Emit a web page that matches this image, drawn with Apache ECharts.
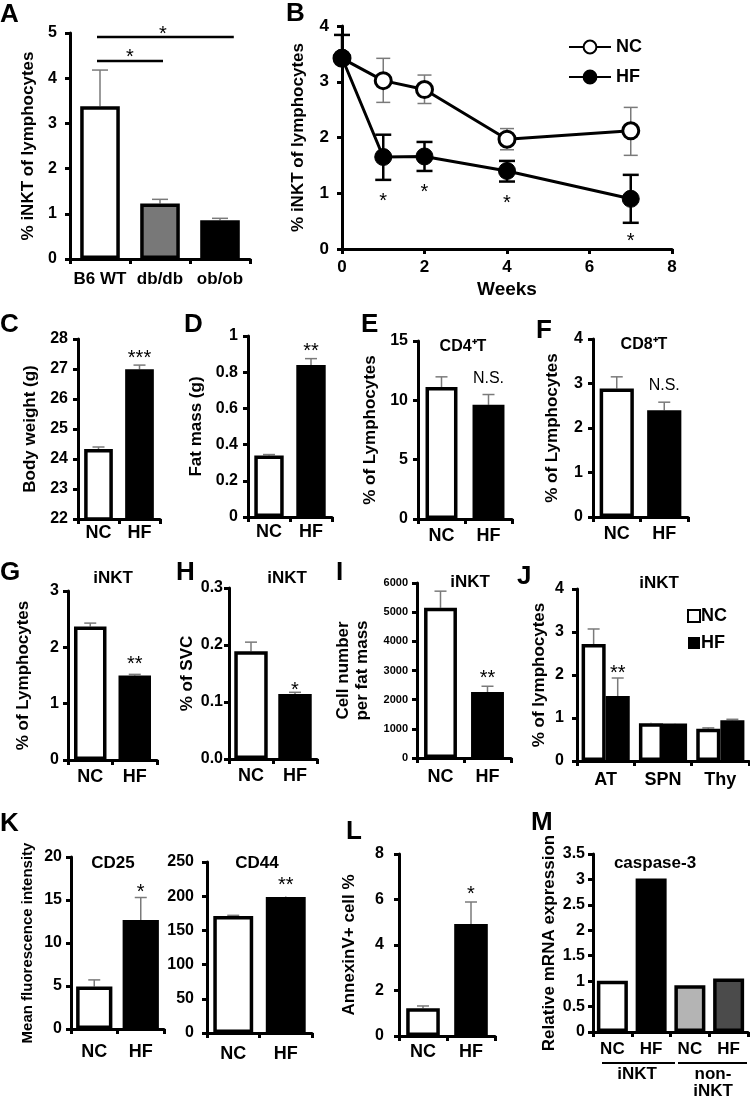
<!DOCTYPE html>
<html><head><meta charset="utf-8">
<script src="https://cdn.jsdelivr.net/npm/echarts@6/dist/echarts.min.js"></script>
<style>html,body{margin:0;padding:0;background:#fff}#c{width:750px;height:1102px}</style>
</head><body><div id="c"></div>
<script>
// ================= DATA =================
const A_categories = ['B6 WT', 'db/db', 'ob/ob'];
const A_values = [3.38, 1.23, 0.86];
const A_errUpper = [4.18, 1.32, 0.90];
const A_sigLines = [[0, 1, 4.38], [0, 2.18, 4.91]];   // [fromCat, toCat, y]
const A_stars = [[0.5, 4.56, '*'], [1.05, 5.07, '*']];

const B_weeks = [0, 1, 2, 4, 7];
const B_NC = [3.42, 3.02, 2.86, 1.97, 2.12];
const B_NC_low = [3.42, 2.63, 2.61, 1.78, 1.68];
const B_NC_high = [3.42, 3.42, 3.12, 2.16, 2.54];
const B_HF = [3.43, 1.65, 1.66, 1.40, 0.90];
const B_HF_low = [3.43, 1.24, 1.40, 1.21, 0.47];
const B_HF_high = [3.84, 2.05, 1.92, 1.58, 1.33];
const B_stars = [[1, 0.94, '*'], [2, 1.11, '*'], [4, 0.90, '*'], [7, 0.23, '*']];

const NC_HF = ['NC', 'HF'];
const C_values = [24.33, 26.99];   const C_err = [24.40, 27.13];  const C_stars = [[1, 27.53, '***']];
const D_values = [0.34, 0.84];     const D_err = [0.345, 0.875];  const D_stars = [[1, 0.94, '**']];
const E_values = [11.12, 9.62];    const E_err = [11.98, 10.49];  const E_stars = [[1, 11.87, 'N.S.']];
const F_values = [2.89, 2.40];     const F_err = [3.15, 2.58];    const F_stars = [[1, 2.95, 'N.S.']];
const G_values = [2.37, 1.50];     const G_err = [2.43, 1.52];    const G_stars = [[1, 1.78, '**']];
const H_values = [0.189, 0.114];   const H_err = [0.205, 0.117];  const H_stars = [[1, 0.1286, '*']];
const I_values = [5150, 2260];     const I_err = [5720, 2460];    const I_stars = [[1, 2904, '**']];

const J_categories = ['AT', 'SPN', 'Thy'];
const J_NC = [2.72, 0.88, 0.75];   const J_NC_err = [3.07, 0.89, 0.77];
const J_HF = [1.51, 0.87, 0.95];   const J_HF_err = [1.93, 0.88, 0.97];
const J_stars = [[0.21, 2.16, '**']];

const K25_values = [4.94, 12.66];  const K25_err = [5.71, 15.29]; const K25_stars = [[1, 16.49, '*']];
const K44_values = [171, 199];     const K44_err = [172, 199.5];  const K44_stars = [[1, 223, '**']];
const L_values = [1.22, 4.92];     const L_err = [1.32, 5.89];    const L_stars = [[1, 6.42, '*']];

const M_categories = ['NC', 'HF', 'NC', 'HF'];
const M_values = [1.01, 3.02, 0.92, 1.05];
const M_groups = ['iNKT', 'non-\niNKT'];

// ================= STYLE / LAYOUT =================
const FONT = "'Liberation Sans', Arial, Helvetica, sans-serif";
const ERR_GRAY = '#7a7a7a';
const BAR_BORDER = 3.5;
const grids = [], xAxes = [], yAxes = [], series = [], graphics = [];

function valueAxis(o) {
  const ax = {
    type: 'value', min: o.min, max: o.max, interval: o.interval, z: 5,
    axisLine: { show: true, onZero: false, lineStyle: { color: '#000', width: 3 } },
    axisTick: { show: true, inside: false, length: 5, lineStyle: { color: '#000', width: 3 } },
    splitLine: { show: false },
    axisLabel: { color: '#000', fontFamily: FONT, fontWeight: 'bold', fontSize: o.labelSize || 16, margin: o.labelMargin },
    name: o.name || '', nameLocation: 'middle', nameRotate: 90, nameGap: o.nameGap || 30,
    nameTextStyle: { color: '#000', fontFamily: FONT, fontWeight: 'bold', fontSize: o.nameSize || 17, lineHeight: 19 }
  };
  if (o.formatter) ax.axisLabel.formatter = o.formatter;
  return ax;
}
function catAxis(data, o) {
  return {
    type: 'category', data: data, z: 5,
    axisLine: { show: true, onZero: false, lineStyle: { color: '#000', width: 3 } },
    axisTick: { show: true, length: 5, lineStyle: { color: '#000', width: 3 } },
    axisLabel: { color: '#000', fontFamily: FONT, fontWeight: 'bold', fontSize: o.labelSize || 18, margin: o.labelMargin, interval: 0 },
    splitLine: { show: false }
  };
}
function addGrid(lay, xa, ya) {
  const gi = grids.length;
  grids.push({ left: lay.left, top: lay.top, width: lay.width, height: lay.height });
  xa.gridIndex = gi; ya.gridIndex = gi;
  xAxes.push(xa); yAxes.push(ya);
  return gi;
}
// error bars: data rows [x, low, high]; offset = fraction of category width
function errSeries(gi, rows, opt) {
  series.push({
    type: 'custom', xAxisIndex: gi, yAxisIndex: gi, silent: true, z: opt.z || 2, clip: false,
    data: rows,
    renderItem: function (p, api) {
      const x = api.value(0), lo = api.value(1), hi = api.value(2);
      const a = api.coord([x, lo]), b = api.coord([x, hi]);
      const px = a[0] + (opt.offset || 0) * api.size([1, 0])[0];
      const st = { stroke: opt.color, lineWidth: opt.width };
      const ch = [{ type: 'line', shape: { x1: px, y1: a[1], x2: px, y2: b[1] }, style: st }];
      if (Math.abs(b[1] - a[1]) > 0.5) ch.push({ type: 'line', shape: { x1: px - opt.cap, y1: b[1], x2: px + opt.cap, y2: b[1] }, style: st });
      if (opt.both && Math.abs(b[1] - a[1]) > 0.5) ch.push({ type: 'line', shape: { x1: px - opt.cap, y1: a[1], x2: px + opt.cap, y2: a[1] }, style: st });
      return { type: 'group', children: ch };
    }
  });
}
// annotation text anchored to data coordinates: items [x, y, text]
function textSeries(gi, items, opt) {
  series.push({
    type: 'custom', xAxisIndex: gi, yAxisIndex: gi, silent: true, z: 6, clip: false,
    data: items.map(function (it) { return [it[0], it[1]]; }),
    renderItem: function (p, api) {
      const it = items[p.dataIndex];
      let pt;
      if (opt.category) {
        const base = api.coord([0, it[1]]);
        pt = [base[0] + it[0] * api.size([1, 0])[0], base[1]];
      } else {
        pt = api.coord([it[0], it[1]]);
      }
      const isStar = it[2].indexOf('*') >= 0;
      const size = isStar ? 20 : (opt.nsSize || 16);
      return {
        type: 'text', x: pt[0], y: pt[1] + (isStar ? 5 : 0),
        style: { text: it[2], fill: '#000', font: 'normal ' + size + 'px ' + FONT,
                 align: 'center', verticalAlign: 'middle', textAlign: 'center', textVerticalAlign: 'middle' }
      };
    }
  });
}
function barSeries(gi, values, colors, barWidth, extra) {
  series.push(Object.assign({
    type: 'bar', xAxisIndex: gi, yAxisIndex: gi, barWidth: barWidth, silent: true, z: 3,
    data: values.map(function (v, i) { return { value: v, itemStyle: { color: colors[i % colors.length] } }; }),
    itemStyle: { borderColor: '#000', borderWidth: BAR_BORDER }
  }, extra || {}));
}
function gtext(x, y, text, size, weight, align) {
  graphics.push({ type: 'text', x: x, y: y, silent: true,
    style: { text: text, fill: '#000', font: (weight || 'bold') + ' ' + size + 'px ' + FONT,
             align: align || 'center', verticalAlign: 'middle', textAlign: align || 'center', textVerticalAlign: 'middle' } });
}
function simplePanel(lay, yo, cats, values, errs, stars, colors) {
  const gi = addGrid(lay, catAxis(cats, { labelMargin: lay.xMargin }), valueAxis(yo));
  errSeries(gi, values.map(function (v, i) { return [i, v, errs[i]]; }), { color: ERR_GRAY, width: 1.5, cap: lay.cap || 7 });
  barSeries(gi, values, colors, lay.barWidth);
  textSeries(gi, stars, { category: true });
  return gi;
}

// ---------- A ----------
const gA = addGrid({ left: 70, top: 33, width: 180, height: 226 },
  catAxis(A_categories, { labelMargin: 12, labelSize: 17 }),
  valueAxis({ min: 0, max: 5, interval: 1, name: '% iNKT of lymphocytes', nameGap: 32, labelMargin: 13 }));
errSeries(gA, A_values.map(function (v, i) { return [i, v, A_errUpper[i]]; }), { color: ERR_GRAY, width: 1.5, cap: 8 });
barSeries(gA, A_values, ['#ffffff', '#787878', '#000000'], '66%');
series.push({
  type: 'custom', xAxisIndex: gA, yAxisIndex: gA, silent: true, clip: false, z: 6,
  data: A_sigLines.map(function (l) { return [0, l[2]]; }),
  renderItem: function (p, api) {
    const l = A_sigLines[p.dataIndex];
    const base = api.coord([0, l[2]]), w = api.size([1, 0])[0];
    return { type: 'line', shape: { x1: base[0] + l[0] * w - 3, y1: base[1], x2: base[0] + l[1] * w + 3, y2: base[1] }, style: { stroke: '#000', lineWidth: 2.5 } };
  }
});
textSeries(gA, A_stars, { category: true });

// ---------- B ----------
const gB = addGrid({ left: 342, top: 26, width: 330, height: 223 },
  Object.assign(valueAxis({ min: 0, max: 8, interval: 2, labelMargin: 10, labelSize: 17 }),
    { name: 'Weeks', nameLocation: 'middle', nameRotate: 0, nameGap: 31,
      nameTextStyle: { color: '#000', fontFamily: FONT, fontWeight: 'bold', fontSize: 19 } }),
  valueAxis({ min: 0, max: 4, interval: 1, name: '% iNKT of lymphocytes', nameGap: 34, labelMargin: 13, labelSize: 17 }));
errSeries(gB, B_weeks.map(function (w, i) { return [w, B_NC_low[i], B_NC_high[i]]; }), { color: ERR_GRAY, width: 1.5, cap: 7, both: true });
errSeries(gB, B_weeks.map(function (w, i) { return [w, B_HF_low[i], B_HF_high[i]]; }), { color: '#000', width: 2.5, cap: 8, both: true });
series.push({ type: 'line', name: 'NC', xAxisIndex: gB, yAxisIndex: gB, z: 4, silent: true,
  data: B_weeks.map(function (w, i) { return [w, B_NC[i]]; }),
  symbol: 'circle', symbolSize: 16, lineStyle: { color: '#000', width: 3 },
  itemStyle: { color: '#ffffff', borderColor: '#000', borderWidth: 3 } });
series.push({ type: 'line', name: 'HF', xAxisIndex: gB, yAxisIndex: gB, z: 5, silent: true,
  data: B_weeks.map(function (w, i) { return [w, B_HF[i]]; }),
  symbol: 'circle', symbolSize: 17, lineStyle: { color: '#000', width: 3 },
  itemStyle: { color: '#000', borderColor: '#000', borderWidth: 1 } });
textSeries(gB, B_stars, { category: false });

// ---------- C - I ----------
const WB = ['#ffffff', '#000000'];
simplePanel({ left: 78, top: 339, width: 82, height: 180, xMargin: 5, barWidth: '70%', cap: 6 },
  { min: 22, max: 28, interval: 1, name: 'Body weight (g)', nameGap: 38, labelMargin: 10 }, NC_HF, C_values, C_err, C_stars, WB);
simplePanel({ left: 248, top: 336, width: 84, height: 181, xMargin: 6, barWidth: '70%', cap: 6 },
  { min: 0, max: 1, interval: 0.2, name: 'Fat mass (g)', nameGap: 42, labelMargin: 10 }, NC_HF, D_values, D_err, D_stars, WB);
simplePanel({ left: 418, top: 341, width: 94, height: 178, xMargin: 8, barWidth: '68%', cap: 6 },
  { min: 0, max: 15, interval: 5, name: '% of Lymphocytes', nameGap: 38, labelMargin: 10 }, NC_HF, E_values, E_err, E_stars, WB);
simplePanel({ left: 593, top: 339, width: 95, height: 178, xMargin: 8, barWidth: '72%', cap: 6 },
  { min: 0, max: 4, interval: 1, name: '% of Lymphocytes', nameGap: 31, labelMargin: 10 }, NC_HF, F_values, F_err, F_stars, WB);
simplePanel({ left: 68, top: 591, width: 89, height: 169, xMargin: 8, barWidth: '73%', cap: 6 },
  { min: 0, max: 3, interval: 1, name: '% of Lymphocytes', nameGap: 35, labelMargin: 9 }, NC_HF, G_values, G_err, G_stars, WB);
simplePanel({ left: 229, top: 588, width: 88, height: 171, xMargin: 8, barWidth: '76%', cap: 6 },
  { min: 0, max: 0.3, interval: 0.1, name: '% of SVC', nameGap: 29, labelMargin: 6,
    formatter: function (v) { return v.toFixed(1); } }, NC_HF, H_values, H_err, H_stars, WB);
simplePanel({ left: 417, top: 583, width: 94, height: 175, xMargin: 10, barWidth: '70%', cap: 6 },
  { min: 0, max: 6000, interval: 1000, name: 'Cell number\nper fat mass', nameGap: 45, labelMargin: 9, labelSize: 11,
    formatter: function (v) { return String(v); } },
  NC_HF, I_values, I_err, I_stars, WB);

// ---------- J ----------
const gJ = addGrid({ left: 577, top: 589, width: 172, height: 172 },
  catAxis(J_categories, { labelMargin: 10 }),
  valueAxis({ min: 0, max: 4, interval: 1, name: '% of lymphocytes', nameGap: 28, labelMargin: 13 }));
errSeries(gJ, J_NC.map(function (v, i) { return [i, v, J_NC_err[i]]; }), { color: ERR_GRAY, width: 1.5, cap: 6, offset: -0.21 });
errSeries(gJ, J_HF.map(function (v, i) { return [i, v, J_HF_err[i]]; }), { color: ERR_GRAY, width: 1.5, cap: 6, offset: 0.21 });
series.push({ type: 'bar', name: 'J NC', xAxisIndex: gJ, yAxisIndex: gJ, z: 3, silent: true, barGap: '0%', barCategoryGap: '16%',
  data: J_NC, itemStyle: { color: '#ffffff', borderColor: '#000', borderWidth: BAR_BORDER } });
series.push({ type: 'bar', name: 'J HF', xAxisIndex: gJ, yAxisIndex: gJ, z: 3, silent: true, barGap: '0%', barCategoryGap: '16%',
  data: J_HF, itemStyle: { color: '#000000', borderColor: '#000', borderWidth: BAR_BORDER } });
textSeries(gJ, J_stars, { category: true });

// ---------- K ----------
simplePanel({ left: 71, top: 857, width: 93, height: 172, xMargin: 14, barWidth: '78%', cap: 6 },
  { min: 0, max: 20, interval: 5, name: 'Mean fluorescence intensity', nameGap: 34, labelMargin: 9, nameSize: 15 },
  NC_HF, K25_values, K25_err, K25_stars, WB);
simplePanel({ left: 207, top: 862, width: 105, height: 171, xMargin: 12, barWidth: '76%', cap: 6 },
  { min: 0, max: 250, interval: 50, labelMargin: 13 }, NC_HF, K44_values, K44_err, K44_stars, WB);

// ---------- L ----------
simplePanel({ left: 399, top: 854, width: 96, height: 182, xMargin: 7, barWidth: '70%', cap: 6 },
  { min: 0, max: 8, interval: 2, name: 'AnnexinV+ cell %', nameGap: 40, labelMargin: 15 }, NC_HF, L_values, L_err, L_stars, WB);

// ---------- M ----------
const gM = addGrid({ left: 593, top: 854, width: 155, height: 178 },
  catAxis(M_categories, { labelMargin: 9, labelSize: 17 }),
  valueAxis({ min: 0, max: 3.5, interval: 0.5, name: 'Relative mRNA expression', nameGap: 27, labelMargin: 8 }));
barSeries(gM, M_values, ['#ffffff', '#000000', '#b4b4b4', '#4b4b4b'], '80%');

// ---------- Text decorations ----------
const letters = [['A', 0, 15], ['B', 286, 14], ['C', 0, 325], ['D', 184, 325], ['E', 361, 325], ['F', 536, 331],
  ['G', 0, 573], ['H', 176, 573], ['I', 336, 573], ['J', 517, 577], ['K', 0, 824], ['L', 346, 832], ['M', 531, 823]];
letters.forEach(function (l) { gtext(l[1], l[2], l[0], 26, 'bold', 'left'); });
gtext(463, 347, 'CD4\u207AT', 16);
gtext(644, 345, 'CD8\u207AT', 16);
gtext(113, 578, 'iNKT', 17);
gtext(287, 578, 'iNKT', 17);
gtext(470, 582, 'iNKT', 17);
gtext(659, 583, 'iNKT', 17);
gtext(113, 863, 'CD25', 17);
gtext(257, 863, 'CD44', 17);
gtext(655, 863, 'caspase-3', 17);
gtext(637, 1074, M_groups[0], 17);
gtext(713, 1083, M_groups[1], 17);
graphics.push({ type: 'line', silent: true, shape: { x1: 602, y1: 1063, x2: 675, y2: 1063 }, style: { stroke: '#000', lineWidth: 2 } });
graphics.push({ type: 'line', silent: true, shape: { x1: 678, y1: 1063, x2: 747, y2: 1063 }, style: { stroke: '#000', lineWidth: 2 } });

const option = {
  animation: false,
  backgroundColor: '#ffffff',
  grid: grids, xAxis: xAxes, yAxis: yAxes, series: series,
  legend: [
    { left: 563, top: 33, orient: 'vertical', itemWidth: 42, itemHeight: 16, itemGap: 12, selectedMode: false,
      data: ['NC', 'HF'], textStyle: { color: '#000', fontFamily: FONT, fontWeight: 'bold', fontSize: 18 } },
    { left: 682, top: 602, orient: 'vertical', itemWidth: 12, itemHeight: 12, itemGap: 9, selectedMode: false, icon: 'rect',
      data: [{ name: 'J NC', itemStyle: { color: '#fff', borderColor: '#000', borderWidth: 2 } },
             { name: 'J HF', itemStyle: { color: '#000', borderColor: '#000', borderWidth: 0 } }],
      formatter: function (n) { return n.slice(2); },
      textStyle: { color: '#000', fontFamily: FONT, fontWeight: 'bold', fontSize: 18, padding: [0, 0, 0, -4] } }
  ],
  graphic: { elements: graphics }
};
const chart = echarts.init(document.getElementById('c'), null, { renderer: 'canvas' });
chart.setOption(option);
</script></body></html>
